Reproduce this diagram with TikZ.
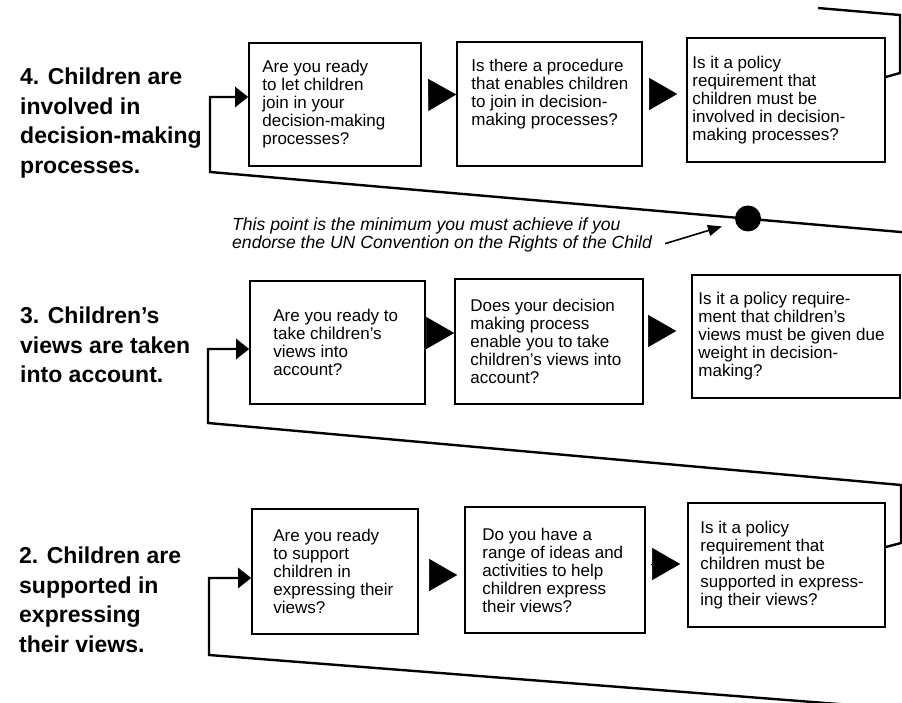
\documentclass[tikz,border=0pt]{standalone}
\usepackage{fontspec}
\setmainfont{Liberation Sans}
\usepackage{tikz}
\usetikzlibrary{positioning,arrows.meta}

\begin{document}
\begin{tikzpicture}[x=1pt, y=-1pt,
    qbox/.style={draw, line width=1.6pt, inner sep=0pt},
    qtext/.style={align=left, inner sep=0pt, font=\fontsize{17}{18}\selectfont},
    rowlabel/.style={anchor=west, align=left, inner sep=0pt, font=\fontsize{23}{29.5}\selectfont\bfseries},
    loopline/.style={line width=2.4pt},
    entry/.style={loopline, -{Triangle[length=13pt,width=20pt]}},
    bigstep/.style={line width=0.5pt, -{Triangle[length=28pt,width=32pt]}}]
    \useasboundingbox (0,0) rectangle (902,703);
    \clip (0,0) rectangle (902,703);
    \fill [white] (0,0) rectangle (902,703);

    % Level 4
    \node [rowlabel] (l4) at (20,123) {4. Children are\\involved in\\decision-making\\processes.};
    \node [qbox, minimum width=172pt, minimum height=123pt] (a4) at (335,104.5) {};
    \node [qtext, right=14pt of a4.west] (a4t) {Are you ready\\to let children\\join in your\\decision-making\\processes?};
    \node [qbox, minimum width=185pt, minimum height=124pt] (b4) at (549.5,104) {};
    \node [qtext, right=15pt of b4.west, yshift=10pt] (b4t) {Is there a procedure\\that enables children\\to join in decision-\\making processes?};
    \node [qbox, minimum width=198pt, minimum height=124pt] (c4) at (786,100) {};
    \node [qtext, right=6pt of c4.west] (c4t) {Is it a policy\\requirement that\\children must be\\involved in decision-\\making processes?};

    % Level 3
    \node [rowlabel] (l3) at (20,345) {3. Children's\\views are taken\\into account.};
    \node [qbox, minimum width=175pt, minimum height=123pt] (a3) at (337.5,342.5) {};
    \node [qtext, right=24pt of a3.west] (a3t) {Are you ready to\\take children's\\views into\\account?};
    \node [qbox, minimum width=188pt, minimum height=125pt] (b3) at (549,341.5) {};
    \node [qtext, right=16pt of b3.west] (b3t) {Does your decision\\making process\\enable you to take\\children's views into\\account?};
    \node [qbox, minimum width=208pt, minimum height=123pt] (c3) at (796,336.5) {};
    \node [qtext, right=7pt of c3.west] (c3t) {Is it a policy require-\\ment that children's\\views must be given due\\weight in decision-\\making?};

    % Level 2
    \node [rowlabel] (l2) at (19,600) {2. Children are\\supported in\\expressing\\their views.};
    \node [qbox, minimum width=166pt, minimum height=125pt] (a2) at (335,571.5) {};
    \node [qtext, right=22pt of a2.west] (a2t) {Are you ready\\to support\\children in\\expressing their\\views?};
    \node [qbox, minimum width=180pt, minimum height=126pt] (b2) at (555,570) {};
    \node [qtext, right=18pt of b2.west] (b2t) {Do you have a\\range of ideas and\\activities to help\\children express\\their views?};
    \node [qbox, minimum width=197pt, minimum height=124pt] (c2) at (786.5,565) {};
    \node [qtext, right=13pt of c2.west] (c2t) {Is it a policy\\requirement that\\children must be\\supported in express-\\ing their views?};

    % Steps inside a level
    \draw [bigstep, shorten <=7pt] ([yshift=9.5pt]a4.east) -- ([yshift=9.5pt]b4.west);
    \draw [bigstep, shorten <=6pt, shorten >=9pt] ([yshift=10pt]b4.east) -- ([yshift=6pt]c4.west);
    \draw [bigstep] ([yshift=9.5pt]a3.east) -- ([yshift=8.5pt]b3.west);
    \draw [bigstep, shorten <=4pt, shorten >=15pt] ([yshift=10.5pt]b3.east) -- ([yshift=5.5pt]c3.west);
    \draw [bigstep, shorten <=10pt, shorten >=7pt] ([yshift=-3.5pt]a2.east) -- ([yshift=-5pt]b2.west);
    \draw [bigstep, shorten <=5pt, shorten >=7pt] ([yshift=6pt]b2.east) -- ([yshift=1pt]c2.west);

    % Lines back to the next level
    \coordinate (to5) at (818,8);
    \coordinate (in4) at (210,97);
    \coordinate (in3) at (208,349);
    \coordinate (in2) at (209,578);
    \coordinate (from1) at (915,710);
    \draw [loopline] ([yshift=23pt]c4.east) -- (900,73) -- (900,15) -- (to5);
    \draw [entry] ([xshift=3pt]c3.east) -- (912,336.5) -- (912,233) -- (210,172) -- (in4) -- (a4.west |- in4);
    \draw [entry] ([yshift=18pt]c2.east) -- (901,543) -- (901,485) -- (208,423) -- (in3) -- (a3.west |- in3);
    \draw [entry] (from1) -- (209,655) -- (in2) -- (a2.west |- in2);

    % Minimum point
    \node [circle, fill, inner sep=0pt, minimum size=26pt] (dot) at (748,218.5) {};
    \node [anchor=west, align=left, inner sep=0pt, font=\fontsize{17.6}{18.5}\selectfont\itshape] (note) at (232,235) {This point is the minimum you must achieve if you\\endorse the UN Convention on the Rights of the Child};
    \draw [line width=1.6pt, -{Triangle[length=14pt,width=11pt]}, shorten >=14pt] ([shift={(13pt,9pt)}]note.south east) -- (dot);
\end{tikzpicture}
\end{document}
